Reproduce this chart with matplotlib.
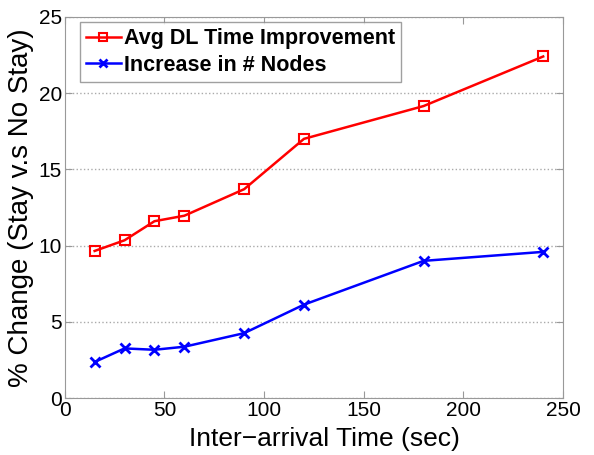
import matplotlib
matplotlib.use("Agg")
import matplotlib.pyplot as plt

plt.rcParams['font.family'] = ['Liberation Sans', 'DejaVu Sans']

inter_arrival = [15, 30, 45, 60, 90, 120, 180, 240]
dl_improvement = [9.65, 10.35, 11.6, 11.96, 13.7, 17.0, 19.15, 22.4]
node_increase = [2.37, 3.26, 3.17, 3.37, 4.26, 6.13, 9.0, 9.59]

fig = plt.figure(figsize=(5.94, 4.55), dpi=100)
ax = fig.add_axes([0.109, 0.125, 0.839, 0.838])

ax.plot(inter_arrival, dl_improvement, color='red', marker='s', markersize=7,
        markerfacecolor='none', markeredgewidth=1.5, linewidth=1.8,
        label='Avg DL Time Improvement')
ax.plot(inter_arrival, node_increase, color='blue', marker='x', markersize=7,
        markeredgewidth=2, linewidth=1.8, label='Increase in # Nodes')

ax.set_xlim(0, 250)
ax.set_ylim(0, 25)
ax.set_xticks([0, 50, 100, 150, 200, 250])
ax.set_yticks([0, 5, 10, 15, 20, 25])
ax.yaxis.grid(True, linestyle=':', color='#aaaaaa', linewidth=1)
ax.set_axisbelow(True)

for s in ax.spines.values():
    s.set_color('#999999')
ax.tick_params(direction='in', top=True, right=True, length=5, color='#999999',
               labelsize=15, pad=2)

ax.set_xlabel('Inter\u2212arrival Time (sec)', fontsize=19)
ax.xaxis.set_label_coords(0.522, -0.075)
ax.set_ylabel('% Change (Stay v.s No Stay)', fontsize=20, labelpad=3)

leg = ax.legend(loc='upper left', bbox_to_anchor=(0.03, 0.987),
                prop={'weight': 'bold', 'size': 15.5},
                fancybox=False, handlelength=1.6, handletextpad=0.15,
                borderaxespad=0, labelspacing=0.25, borderpad=0.3,
                markerscale=0.8)
leg.get_frame().set_edgecolor('#888888')
leg.get_frame().set_linewidth(1)

fig.savefig('out.png', dpi=100)
